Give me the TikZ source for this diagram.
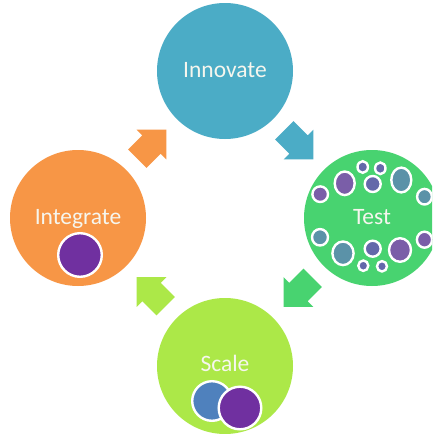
\documentclass[tikz,border=0pt]{standalone}
\usepackage{fontspec}
\setmainfont{Carlito}
\usetikzlibrary{calc}
\definecolor{innov}{HTML}{4BACC6}
\definecolor{testg}{HTML}{48D370}
\definecolor{scaleg}{HTML}{ACE848}
\definecolor{integ}{HTML}{F79646}
\definecolor{dpurple}{HTML}{7030A0}
\definecolor{dblue}{HTML}{4F81BD}
\definecolor{tpurple}{HTML}{7A5EA8}
\definecolor{tteal}{HTML}{5B92A8}
\definecolor{tmed}{HTML}{6468AA}
\definecolor{txt}{HTML}{F6F6EE}
\tikzset{
  mainc/.style={circle, minimum size=136pt, inner sep=0pt, draw=none},
  lbl/.style={text=txt, font=\fontsize{23.5}{28}\selectfont, anchor=base, inner sep=0pt},
  bubble/.style={draw=white, line width=2.4pt},
  blockarrow/.style={draw=none}
}
\newcommand\bub[5]{\path[bubble,fill=#1] (#2,#3) ellipse [x radius=#4, y radius=#5];}
\newcommand\blockarr[3]{\fill[#1, shift={(#2)}, rotate=#3] (-20,-13) -- (0,-13) -- (0,-21) -- (21,0) -- (0,21) -- (0,13) -- (-20,13) -- cycle;}
\begin{document}
\begin{tikzpicture}[x=1pt,y=-1pt]
\useasboundingbox (0,0) rectangle (432,434);
\clip (0,0) rectangle (432,434);
\fill[white] (0,0) rectangle (432,434);
% main circles
\node[mainc, fill=innov] (innovate) at (225,71) {};
\node[mainc, fill=testg] (test) at (372,218) {};
\node[mainc, fill=scaleg] (scale) at (225,366) {};
\node[mainc, fill=integ] (integrate) at (78,218) {};
% arrows between circles
\coordinate (m1) at ($(innovate)!0.5!(test)$);
\coordinate (m2) at ($(test)!0.5!(scale)$);
\coordinate (m3) at ($(scale)!0.5!(integrate)$);
\coordinate (m4) at ($(integrate)!0.5!(innovate)$);
\blockarr{innov}{m1}{-45}
\blockarr{testg}{m2}{-135}
\blockarr{scaleg}{m3}{135}
\blockarr{integ}{m4}{45}
% Test bubbles (top)
\bub{tpurple}{320.2}{194.2}{7.8}{7.8}
\bub{tpurple}{344.7}{183.3}{10.0}{11.8}
\bub{tmed}{362.7}{167}{5.2}{5.8}
\bub{tmed}{380.3}{168.3}{5.2}{5.8}
\bub{tmed}{372.7}{184}{8.0}{8.0}
\bub{tteal}{401.3}{180}{10.0}{12.4}
\bub{tteal}{424.5}{196.7}{7.4}{7.8}
% Test bubbles (bottom)
\bub{tteal}{320}{237.3}{8.0}{8.2}
\bub{tteal}{343}{253.3}{10.6}{11.8}
\bub{tmed}{372.7}{248.7}{8.0}{8.0}
\bub{tmed}{363.3}{265.7}{5.0}{5.2}
\bub{tmed}{382}{266.3}{5.0}{5.2}
\bub{tpurple}{400}{250}{11.0}{11.8}
\bub{tpurple}{424.5}{239.7}{7.6}{8.0}
% Scale bubbles
\path[bubble, fill=dblue] (212,401) circle [radius=19.8];
\path[bubble, fill=dpurple] (240,408) circle [radius=21.3];
% Integrate bubble
\path[bubble, fill=dpurple] (80,255) circle [radius=21.8];
% labels
\node[lbl] (innovate-t) at (225,77) {Innovate};
\node[lbl] (test-t) at (372,224) {Test};
\node[lbl] (scale-t) at (225,371.5) {Scale};
\node[lbl] (integrate-t) at (78,224) {Integrate};
\end{tikzpicture}
\end{document}
